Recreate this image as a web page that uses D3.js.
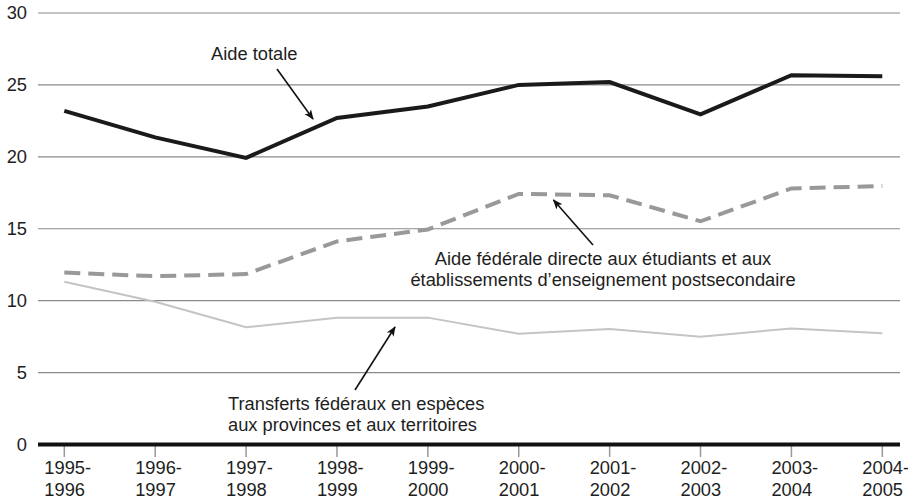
<!DOCTYPE html>
<html><head><meta charset="utf-8">
<script src="https://cdn.jsdelivr.net/npm/d3@7"></script>
<style>
html,body{margin:0;padding:0;background:#fff;}
text{font-family:"Liberation Sans",Arial,Helvetica,sans-serif;fill:#1e1e1e;}
</style></head>
<body>
<svg id="chart" width="908" height="499"></svg>
<script>
const categories = ["1995-1996","1996-1997","1997-1998","1998-1999","1999-2000","2000-2001","2001-2002","2002-2003","2003-2004","2004-2005"];
const aideTotale = [23.2,21.35,19.93,22.7,23.5,25.0,25.2,22.95,25.68,25.6];
const aideFederale = [11.95,11.7,11.85,14.12,14.95,17.42,17.33,15.52,17.8,17.97];
const transferts = [11.32,9.93,8.15,8.82,8.82,7.7,8.03,7.5,8.07,7.73];
const yTicks = [0,5,10,15,20,25,30];
const labelTotale = ["Aide totale"];
const labelFederale = ["Aide fédérale directe aux étudiants et aux","établissements d’enseignement postsecondaire"];
const labelTransferts = ["Transferts fédéraux en espèces","aux provinces et aux territoires"];

const svg = d3.select("#chart");
const x = d3.scalePoint().domain(categories).range([64.3, 882.3]);
const y = d3.scaleLinear().domain([0,30]).range([444.5, 13]);
const gridX0 = 38, gridX1 = 900;

svg.append("defs").append("marker")
  .attr("id","arr").attr("viewBox","0 0 10 10").attr("refX",9).attr("refY",5)
  .attr("markerWidth",10).attr("markerHeight",10).attr("markerUnits","userSpaceOnUse")
  .attr("orient","auto")
  .append("path").attr("d","M0,1 L10,5 L0,9 L2.5,5 Z").attr("fill","#111");

// gridlines
svg.append("g").selectAll("line").data(yTicks.filter(d=>d>0)).join("line")
  .attr("x1",gridX0).attr("x2",gridX1)
  .attr("y1",d=>y(d)).attr("y2",d=>y(d))
  .attr("stroke","#8a8a8a").attr("stroke-width",1.2);

// y labels
svg.append("g").selectAll("text").data(yTicks).join("text")
  .attr("x",27).attr("y",d=>y(d)).attr("dy","0.35em")
  .attr("text-anchor","end").attr("font-size",18.3).text(d=>d);

// x ticks
svg.append("g").selectAll("line").data(categories).join("line")
  .attr("x1",d=>x(d)).attr("x2",d=>x(d)).attr("y1",446).attr("y2",457)
  .attr("stroke","#999").attr("stroke-width",1.5);

// x labels
const xl = svg.append("g").selectAll("text").data(categories).join("text")
  .attr("x",d=>x(d)-20).attr("y",474).attr("font-size",18.3);
xl.append("tspan").attr("x",d=>x(d)-20).text(d=>d.split("-")[0]+"-");
xl.append("tspan").attr("x",d=>x(d)-20).attr("dy",22).text(d=>d.split("-")[1]);

// axis line
svg.append("line").attr("x1",gridX0).attr("x2",gridX1).attr("y1",y(0)).attr("y2",y(0))
  .attr("stroke","#111").attr("stroke-width",4);

const line = d3.line().x((d,i)=>x(categories[i])).y(d=>y(d));

svg.append("path").datum(transferts).attr("d",line)
  .attr("fill","none").attr("stroke","#c4c4c4").attr("stroke-width",2);
svg.append("path").datum(aideFederale).attr("d",line)
  .attr("fill","none").attr("stroke","#999").attr("stroke-width",4)
  .attr("stroke-dasharray","16,8");
svg.append("path").datum(aideTotale).attr("d",line)
  .attr("fill","none").attr("stroke","#1a1a1a").attr("stroke-width",4)
  .attr("stroke-linejoin","miter");

// annotations
function label(lines, xx, yy, anchor){
  const t = svg.append("text").attr("font-size",18.3).attr("text-anchor",anchor);
  lines.forEach((l,i)=>t.append("tspan").attr("x",xx).attr("y",yy+i*21).text(l));
}
label(labelTotale, 211, 60, "start");
label(labelFederale, 603, 265, "middle");
label(labelTransferts, 228, 410, "start");

function arrow(x1,y1,x2,y2){
  svg.append("line").attr("x1",x1).attr("y1",y1).attr("x2",x2).attr("y2",y2)
    .attr("stroke","#111").attr("stroke-width",1.6).attr("marker-end","url(#arr)");
}
arrow(277,69,313,119);
arrow(593,245,553.5,200);
arrow(355,390,395,327);
</script>
</body></html>
